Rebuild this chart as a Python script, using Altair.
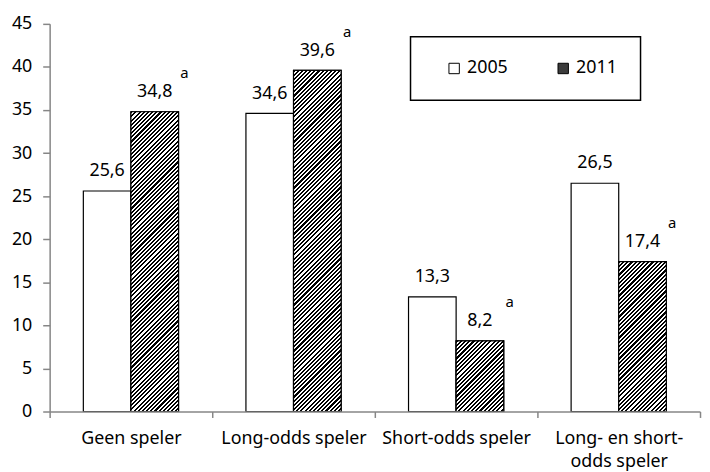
import altair as alt
import pandas as pd

categories = ["Geen speler", "Long-odds speler", "Short-odds speler", "Long- en short-odds speler"]
years = ["2005", "2011"]
values_2005 = [25.6, 34.6, 13.3, 26.5]
values_2011 = [34.8, 39.6, 8.2, 17.4]
sig_2011 = ["a", "a", "a", "a"]
y_ticks = [0, 5, 10, 15, 20, 25, 30, 35, 40, 45]


def fmt(v):
    return f"{v:.1f}".replace(".", ",")


rows = []
for c, v in zip(categories, values_2005):
    rows.append({"cat": c, "year": "2005", "value": v, "label": fmt(v), "sig": ""})
for c, v, s in zip(categories, values_2011, sig_2011):
    rows.append({"cat": c, "year": "2011", "value": v, "label": fmt(v), "sig": s})
df = pd.DataFrame(rows)

W, H = 656, 391
YMAX = 45
FONT = "Noto Sans"
band = W / len(categories)
pad_outer = 0.708
bar_w = band / (2 + 2 * pad_outer)
period_h = 4.2  # horizontal stripe period in px


def hatch(v):
    w = bar_w
    h = v / YMAX * H
    s = (w + h) / (w * w + h * h)
    n = max(1, round((w + h) / period_h))
    stops = []
    for i in range(n):
        a = i / n
        m = (i + 0.5) / n
        b = (i + 1) / n
        stops += [
            alt.GradientStop(offset=a, color="black"),
            alt.GradientStop(offset=m, color="black"),
            alt.GradientStop(offset=m, color="white"),
            alt.GradientStop(offset=b, color="white"),
        ]
    return alt.LinearGradient(gradient="linear", x1=0, y1=0, x2=w * s, y2=h * s, stops=stops)


label_expr = ("datum.value == 'Long- en short-odds speler' ? "
              "['Long- en short-', 'odds speler'] : datum.label")

x = alt.X("cat:N", sort=categories,
          scale=alt.Scale(domain=categories, paddingInner=0, paddingOuter=0),
          axis=alt.Axis(title=None, labelAngle=0, tickBand="extent", tickSize=6,
                        labelPadding=12, labelLineHeight=23, labelLimit=220,
                        labelExpr=label_expr, zindex=1))
xo = alt.XOffset("year:N", scale=alt.Scale(domain=years, paddingInner=0, paddingOuter=pad_outer))
y = alt.Y("value:Q", scale=alt.Scale(domain=[0, YMAX], nice=False),
          axis=alt.Axis(title=None, values=y_ticks, grid=False, tickSize=7, labelPadding=11, zindex=1))

base = alt.Chart(df)

bars = base.mark_bar(stroke="black", strokeWidth=1.2).encode(
    x=x, xOffset=xo, y=y,
    fill=alt.Fill("year:N", scale=alt.Scale(domain=years, range=["white", "#3c3c3c"]),
                  legend=alt.Legend(title=None, orient="none", legendX=364, legendY=13,
                                    direction="horizontal", columns=2, columnPadding=34,
                                    symbolType="square", symbolSize=110, symbolOffset=12,
                                    symbolStrokeColor="black", symbolStrokeWidth=1,
                                    labelFont=FONT, labelFontSize=18, labelOffset=4,
                                    padding=23, strokeColor="black")),
)

hatched = []
for c, v in zip(categories, values_2011):
    hatched.append(
        base.transform_filter((alt.datum.cat == c) & (alt.datum.year == "2011"))
        .mark_bar(fill=hatch(v), stroke="black", strokeWidth=1.2)
        .encode(x=x, xOffset=xo, y=y)
    )

labels = base.mark_text(font=FONT, fontSize=18, baseline="alphabetic", dy=-15, color="black").encode(
    x=x, xOffset=xo, y=y, text="label:N")

sups = base.transform_filter(alt.datum.sig != "").mark_text(
    font=FONT, fontSize=15, baseline="alphabetic", dx=30, dy=-34, color="black").encode(
    x=x, xOffset=xo, y=y, text="sig:N")

chart = alt.layer(bars, *hatched, labels, sups).properties(
    width=W, height=H,
    padding={"left": 42, "top": 14, "right": 2, "bottom": 58},
    autosize="none",
).configure_view(stroke=None).configure_axis(
    domainColor="#868686", domainWidth=1.5, tickColor="#868686", tickWidth=1.5,
    labelFont=FONT, labelFontSize=18, labelColor="black",
).configure_legend(strokeWidth=1.5)

chart.save("out.html", embed_options={"renderer": "svg", "actions": False})
